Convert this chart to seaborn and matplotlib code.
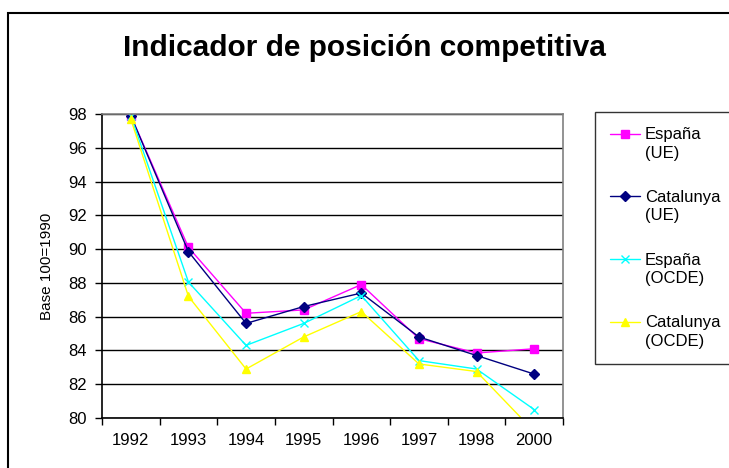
import numpy as np
import pandas as pd
import seaborn as sns
import matplotlib.pyplot as plt
from matplotlib.patches import Rectangle
from matplotlib.offsetbox import DrawingArea

years = ['1992', '1993', '1994', '1995', '1996', '1997', '1998', '2000']
espana_ue = [97.9, 90.1, 86.2, 86.4, 87.9, 84.7, 83.85, 84.1]
catalunya_ue = [97.9, 89.85, 85.6, 86.6, 87.4, 84.8, 83.7, 82.6]
espana_ocde = [97.9, 88.05, 84.3, 85.6, 87.25, 83.4, 82.9, 80.5]
catalunya_ocde = [97.7, 87.2, 82.9, 84.8, 86.3, 83.2, 82.75, 79.2]

series = ['España\n(UE)', 'Catalunya\n(UE)', 'España\n(OCDE)', 'Catalunya\n(OCDE)']
colors = ['#FF00FF', '#000080', '#00FFFF', '#FFFF00']
marks = ['s', 'D', 'x', '^']
msizes = [6, 5, 6, 6]

rows = []
for name, vals in zip(series, [espana_ue, catalunya_ue, espana_ocde, catalunya_ocde]):
    for i, v in enumerate(vals):
        rows.append({'pos': i, 'year': years[i], 'valor': v, 'serie': name})
data = pd.DataFrame(rows)

sns.set_style('white')
plt.rcParams['font.family'] = ['Liberation Sans', 'DejaVu Sans']
plt.rcParams['text.color'] = 'black'
plt.rcParams['axes.labelcolor'] = 'black'
plt.rcParams['xtick.color'] = 'black'
plt.rcParams['ytick.color'] = 'black'

fig = plt.figure(figsize=(7.29, 4.68), dpi=100)
ax = fig.add_axes([102 / 729, 1 - 418 / 468, (563 - 102) / 729, (418 - 114) / 468])

for name, c, m, ms in zip(series, colors, marks, msizes):
    sns.lineplot(data=data[data.serie == name], x='pos', y='valor', color=c,
                 marker=m, markersize=ms, markeredgecolor=c, markeredgewidth=1.0,
                 linewidth=1.0, label=name, ax=ax)

ax.set_xlim(-0.5, 7.5)
ax.set_ylim(80, 98)
ax.set_yticks(range(80, 99, 2))
ax.set_xticks([i - 0.5 for i in range(9)])
ax.set_xticklabels([])
ax.set_xticks(range(8), minor=True)
ax.set_xticklabels(years, minor=True, fontsize=12)
ax.tick_params(axis='x', which='major', direction='out', length=5, width=1, color='black', bottom=True)
ax.tick_params(axis='x', which='minor', length=0, pad=11, bottom=True)
ax.tick_params(axis='y', direction='out', length=5, width=1, color='black', labelsize=12, pad=6, left=True)
ax.yaxis.grid(True, color='black', linewidth=1)
ax.xaxis.grid(False)
ax.set_axisbelow(True)
for s in ['left', 'bottom']:
    ax.spines[s].set_color('black')
    ax.spines[s].set_linewidth(1.2)
for s in ['top', 'right']:
    ax.spines[s].set_color('#808080')
    ax.spines[s].set_linewidth(1.2)
ax.set_xlabel('')
ax.set_ylabel('Base 100=1990', fontsize=11, labelpad=10)

fig.text(0.5, 1 - 48 / 468, 'Indicador de posición competitiva', ha='center', va='center',
         fontsize=21.5, fontweight='bold')

leg = ax.legend(loc='upper left', bbox_to_anchor=(595 / 729, 1 - 112 / 468),
                bbox_transform=fig.transFigure, frameon=True, fancybox=False,
                fontsize=12, labelspacing=1.75, handlelength=1.8, borderpad=0.9,
                handletextpad=0.3, borderaxespad=0)
leg.get_frame().set_edgecolor('black')
leg.get_frame().set_linewidth(1.0)
for t in leg.get_texts():
    t.set_linespacing(1.3)
# put the legend keys level with the first line of each label
for da in leg.findobj(DrawingArea):
    for ch in da.get_children():
        ch.set_ydata(np.asarray(ch.get_ydata()) + 7.5)

fig.patches.append(Rectangle((8 / 729, -0.1), 1.2, 1 - 13 / 468 + 0.1,
                             transform=fig.transFigure, fill=False,
                             edgecolor='black', linewidth=1.5))

fig.savefig('out.png', dpi=100)
